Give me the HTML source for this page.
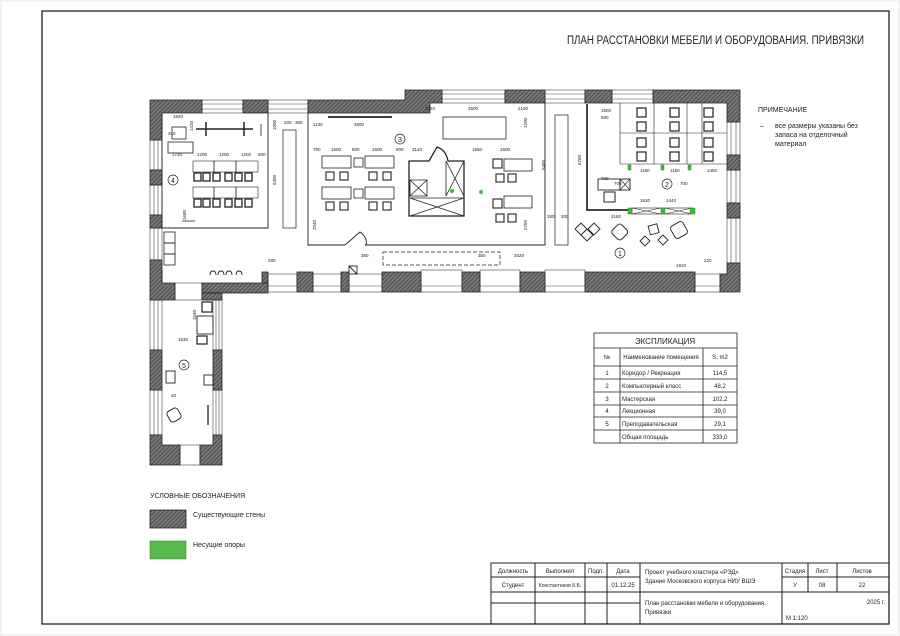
<!DOCTYPE html>
<html><head><meta charset="utf-8"><style>
html,body{margin:0;padding:0;background:#fff}
svg{display:block}
text{font-family:"Liberation Sans","DejaVu Sans",sans-serif;fill:#222}
</style></head><body>
<svg width="900" height="636" viewBox="0 0 900 636" xmlns="http://www.w3.org/2000/svg">
<defs>
<pattern id="h" width="3" height="3" patternUnits="userSpaceOnUse" patternTransform="rotate(45)">
<rect width="3" height="3" fill="#777"/><line x1="0" y1="0" x2="0" y2="3" stroke="#333" stroke-width="1.2"/>
</pattern>
</defs>
<rect x="0" y="0" width="900" height="636" fill="#f2f2f2"/>
<rect x="2" y="2" width="896" height="632" fill="#fff"/>
<rect x="42" y="11" width="847" height="613" fill="none" stroke="#222" stroke-width="1.3"/>
<text x="864" y="44" font-size="11.5" text-anchor="end" textLength="297" lengthAdjust="spacingAndGlyphs">ПЛАН РАССТАНОВКИ МЕБЕЛИ И ОБОРУДОВАНИЯ. ПРИВЯЗКИ</text>

<text x="758" y="112" font-size="7">ПРИМЕЧАНИЕ</text>
<text x="760" y="128" font-size="7">–</text>
<text x="775" y="128" font-size="7">все размеры указаны без</text>
<text x="775" y="137" font-size="7">запаса на отделочный</text>
<text x="775" y="146" font-size="7">материал</text>

<g stroke="#444" stroke-width="0.6" fill="#fff">
<rect x="202" y="100" width="41" height="13"/><line x1="202" y1="104" x2="243" y2="104"/><line x1="202" y1="109" x2="243" y2="109"/>
<rect x="268" y="100" width="40" height="13"/><line x1="268" y1="104" x2="308" y2="104"/><line x1="268" y1="109" x2="308" y2="109"/>
<rect x="442" y="90" width="63" height="13"/><line x1="442" y1="94" x2="505" y2="94"/><line x1="442" y1="99" x2="505" y2="99"/>
<rect x="545" y="90" width="40" height="13"/><line x1="545" y1="94" x2="585" y2="94"/><line x1="545" y1="99" x2="585" y2="99"/>
<rect x="612" y="90" width="41" height="13"/><line x1="612" y1="94" x2="653" y2="94"/><line x1="612" y1="99" x2="653" y2="99"/>
<rect x="150" y="140" width="12" height="30"/><line x1="154" y1="140" x2="154" y2="170"/><line x1="158" y1="140" x2="158" y2="170"/>
<rect x="150" y="185" width="12" height="30"/><line x1="154" y1="185" x2="154" y2="215"/><line x1="158" y1="185" x2="158" y2="215"/>
<rect x="150" y="228" width="12" height="32"/><line x1="154" y1="228" x2="154" y2="260"/><line x1="158" y1="228" x2="158" y2="260"/>
<rect x="727" y="122" width="13" height="33"/><line x1="731" y1="122" x2="731" y2="155"/><line x1="736" y1="122" x2="736" y2="155"/>
<rect x="727" y="170" width="13" height="33"/><line x1="731" y1="170" x2="731" y2="203"/><line x1="736" y1="170" x2="736" y2="203"/>
<rect x="727" y="218" width="13" height="45"/><line x1="731" y1="218" x2="731" y2="263"/><line x1="736" y1="218" x2="736" y2="263"/>
<rect x="268" y="274" width="29" height="18"/><rect x="313" y="274" width="28" height="18"/><rect x="349" y="274" width="33" height="18"/>
<rect x="421" y="270" width="41" height="22"/><rect x="480" y="270" width="40" height="22"/><rect x="545" y="270" width="40" height="22"/>
<rect x="695" y="274" width="25" height="18"/>
<line x1="268" y1="286" x2="720" y2="286"/>
<rect x="150" y="300" width="12" height="50"/><line x1="154" y1="300" x2="154" y2="350"/><line x1="158" y1="300" x2="158" y2="350"/>
<rect x="150" y="390" width="12" height="45"/><line x1="154" y1="390" x2="154" y2="435"/><line x1="158" y1="390" x2="158" y2="435"/>
<rect x="213" y="300" width="9" height="50"/><line x1="216" y1="300" x2="216" y2="350"/><line x1="219" y1="300" x2="219" y2="350"/>
<rect x="213" y="390" width="9" height="45"/><line x1="216" y1="390" x2="216" y2="435"/><line x1="219" y1="390" x2="219" y2="435"/>
<rect x="175" y="283" width="27" height="17"/><rect x="180" y="445" width="20" height="20"/>
</g>

<g fill="url(#h)" stroke="#222" stroke-width="0.8">
<path d="M150 100 H202 V113 H162 V140 H150 Z"/>
<rect x="150" y="170" width="12" height="15"/>
<rect x="150" y="215" width="12" height="13"/>
<path d="M150 260 H162 V283 H175 V300 H150 Z"/>
<rect x="243" y="100" width="25" height="13"/>
<path d="M308 100 H405 V90 H442 V103 H430 V113 H308 Z"/>
<rect x="505" y="90" width="40" height="13"/>
<rect x="585" y="90" width="27" height="13"/>
<path d="M653 90 H740 V122 H727 V103 H653 Z"/>
<rect x="727" y="155" width="13" height="15"/>
<rect x="727" y="203" width="13" height="15"/>
<path d="M727 263 H740 V292 H720 V274 H727 Z"/>
<rect x="202" y="283" width="66" height="10"/>
<rect x="262" y="272" width="6" height="11"/>
<rect x="202" y="293" width="20" height="7"/>
<rect x="297" y="272" width="16" height="20"/>
<rect x="341" y="272" width="8" height="20"/>
<rect x="382" y="272" width="39" height="20"/>
<rect x="462" y="272" width="18" height="20"/>
<rect x="520" y="272" width="25" height="20"/>
<rect x="585" y="272" width="110" height="20"/>
<rect x="150" y="350" width="12" height="40"/>
<rect x="213" y="350" width="9" height="40"/>
<path d="M150 435 H162 V445 H180 V465 H150 Z"/>
<path d="M213 435 H222 V465 H200 V445 H213 Z"/>
</g>

<g fill="none" stroke="#222" stroke-width="0.9">
<path d="M268 113 V228 H162"/>
<path d="M308 113 V245 H345 M365 245 H545 V103"/>
<path d="M345 245 L360 232 Q368 238 366 245"/>
<rect x="283" y="130" width="13" height="98" stroke-width="0.7"/>
<rect x="555" y="115" width="13" height="130" stroke-width="0.7"/>
<path d="M587 104 V210 H632" stroke="#444" stroke-width="2"/>
<rect x="383" y="252" width="117" height="13" stroke-dasharray="4,2" stroke-width="0.7"/>
<path d="M162 113 V228 M162 270 V283"/>
</g>

<g fill="none" stroke="#222" stroke-width="0.8">
<rect x="172" y="127" width="14" height="12"/><rect x="168" y="142" width="25" height="11"/>
<line x1="196" y1="129" x2="253" y2="129" stroke-width="1.5"/>
<line x1="206" y1="122" x2="206" y2="136" stroke-width="1.5"/><line x1="244" y1="122" x2="244" y2="136" stroke-width="1.5"/>
<line x1="261" y1="124" x2="261" y2="136"/>
<g stroke-width="0.6"><rect x="193" y="161" width="21" height="11"/><rect x="214" y="161" width="22" height="11"/><rect x="236" y="161" width="22" height="11"/>
<rect x="193" y="187" width="21" height="11"/><rect x="214" y="187" width="22" height="11"/><rect x="236" y="187" width="22" height="11"/></g>
<g stroke-width="1.3">
<rect x="194" y="173" width="7" height="8"/><rect x="203" y="173" width="7" height="8"/><rect x="213" y="173" width="7" height="8"/><rect x="225" y="173" width="7" height="8"/><rect x="235" y="173" width="7" height="8"/><rect x="245" y="173" width="7" height="8"/>
<rect x="194" y="199" width="7" height="8"/><rect x="203" y="199" width="7" height="8"/><rect x="213" y="199" width="7" height="8"/><rect x="225" y="199" width="7" height="8"/><rect x="235" y="199" width="7" height="8"/><rect x="245" y="199" width="7" height="8"/></g>
<line x1="182" y1="221" x2="195" y2="221"/>
<rect x="164" y="232" width="11" height="11"/><rect x="164" y="243" width="11" height="11"/><rect x="164" y="254" width="11" height="11"/>
</g>

<g fill="none" stroke="#222" stroke-width="0.8">
<line x1="328" y1="117" x2="392" y2="117" stroke-width="1.8"/>
<rect x="443" y="117" width="63" height="22"/>
<rect x="322" y="156" width="29" height="12"/><rect x="365" y="156" width="29" height="12"/>
<rect x="354" y="158" width="9" height="9"/>
<rect x="322" y="187" width="29" height="12"/><rect x="365" y="187" width="29" height="12"/>
<rect x="354" y="189" width="9" height="9"/>
<g stroke-width="1.1">
<rect x="326" y="172" width="8" height="8"/><rect x="340" y="172" width="8" height="8"/><rect x="369" y="172" width="8" height="8"/><rect x="383" y="172" width="8" height="8"/>
<rect x="326" y="202" width="8" height="8"/><rect x="340" y="202" width="8" height="8"/><rect x="369" y="202" width="8" height="8"/><rect x="383" y="202" width="8" height="8"/>
<rect x="493" y="159" width="9" height="9"/><rect x="493" y="199" width="9" height="9"/>
<rect x="496" y="174" width="8" height="8"/><rect x="508" y="174" width="8" height="8"/>
<rect x="496" y="214" width="8" height="8"/><rect x="508" y="214" width="8" height="8"/></g>
<rect x="504" y="159" width="28" height="12"/><rect x="504" y="196" width="28" height="12"/>
<path d="M409 161 H429 L437 147 Q446 150 448 161 H464 V216 H409 Z" stroke-width="1.3"/>
<path d="M410 180 H427 V196 H410 Z M410 180 L427 196 M427 180 L410 196"/>
<path d="M446 161 V196 M446 161 L464 196 M464 161 L446 196"/>
<path d="M410 198 H464 M410 198 L464 216 M464 198 L410 216"/>
</g>
<circle cx="452" cy="191" r="2" fill="#3dbb3d"/><circle cx="481" cy="192" r="2" fill="#3dbb3d"/>

<g fill="none" stroke="#222" stroke-width="0.6">
<path d="M620 103 V164 M654 103 V164 M687 103 V164 M702 103 V164 M620 164 H727 M620 133 H727"/>
<g stroke-width="1.2">
<rect x="637" y="108" width="9" height="9"/><rect x="637" y="122" width="9" height="9"/><rect x="637" y="138" width="9" height="9"/><rect x="637" y="152" width="9" height="9"/>
<rect x="670" y="108" width="9" height="9"/><rect x="670" y="122" width="9" height="9"/><rect x="670" y="138" width="9" height="9"/><rect x="670" y="152" width="9" height="9"/>
<rect x="704" y="108" width="9" height="9"/><rect x="704" y="122" width="9" height="9"/><rect x="704" y="138" width="9" height="9"/><rect x="704" y="152" width="9" height="9"/></g>
<rect x="598" y="179" width="22" height="11" stroke-width="0.9"/><rect x="620" y="179" width="10" height="11" stroke-width="0.9"/>
<path d="M620 179 L630 190 M630 179 L620 190"/>
<rect x="604" y="192" width="11" height="10" stroke-width="1"/>
<rect x="632" y="208" width="60" height="6"/><path d="M632 208 L661 214 M661 208 L632 214 M665 208 L692 214 M692 208 L665 214"/>
</g>
<g fill="#3dbb3d" stroke="#2a8a2a" stroke-width="0.5">
<rect x="628" y="165" width="3" height="5"/><rect x="661" y="165" width="3" height="5"/><rect x="688" y="165" width="3" height="5"/>
<rect x="628" y="208" width="4" height="6"/><rect x="661" y="208" width="4" height="6"/><rect x="690" y="208" width="5" height="6"/>
</g>
<g fill="none" stroke="#222" stroke-width="0.9">
<path d="M575 229 l6 -6 l6 6 l-6 6 z M581 235 l6 -6 l6 6 l-6 6 z M588 229 l6 -6 l6 6 l-6 6 z"/>
<rect x="613" y="225" width="13" height="13" rx="3" transform="rotate(45 619 232)"/>
<rect x="649" y="225" width="9" height="9" transform="rotate(-15 653 229)"/>
<path d="M640 241 l5 -5 l5 5 l-5 5 z M658 240 l5 -5 l5 5 l-5 5 z"/>
<rect x="672" y="223" width="14" height="14" rx="3" transform="rotate(-30 679 230)"/>
<rect x="349" y="266" width="8" height="8"/><path d="M349 266 L357 274"/>
<rect x="202" y="302" width="10" height="10" stroke-width="1.2"/><rect x="197" y="316" width="16" height="18"/><rect x="197" y="336" width="10" height="8" stroke-width="1.2"/>
<rect x="168" y="409" width="12" height="12" rx="3" transform="rotate(-30 174 415)"/>
<line x1="208" y1="405" x2="208" y2="425" stroke-width="1.3"/>
<rect x="166" y="371" width="9" height="12"/><rect x="204" y="375" width="9" height="10"/>
<path d="M210 275 q0 -4 3 -4 q3 0 3 4 M218 275 q0 -4 3 -4 q3 0 3 4 M226 275 q0 -4 3 -4 q3 0 3 4 M236 275 q0 -4 3 -4 q3 0 3 4"/>
</g>

<g font-size="4.5" fill="#333">
<text x="173" y="118">1920</text><text x="168" y="135">340</text><text x="172" y="156">1720</text>
<text x="197" y="156">1200</text><text x="219" y="156">1200</text><text x="241" y="156">1200</text><text x="258" y="156">600</text>
<text x="284" y="124">200</text><text x="295" y="124">360</text><text x="313" y="126">1130</text><text x="354" y="126">3500</text>
<text x="425" y="110">1410</text><text x="468" y="110">3500</text><text x="518" y="110">2180</text>
<text x="313" y="151">790</text><text x="331" y="151">1600</text><text x="352" y="151">800</text><text x="372" y="151">1600</text><text x="396" y="151">800</text><text x="412" y="151">3140</text>
<text x="472" y="151">1560</text><text x="500" y="151">1600</text>
<text x="361" y="257">350</text><text x="478" y="257">350</text><text x="514" y="257">2520</text>
<text x="268" y="262">280</text><text x="676" y="267">1910</text><text x="704" y="262">220</text>
<text x="601" y="112">1500</text><text x="601" y="119">580</text><text x="601" y="180">700</text><text x="614" y="185">700</text>
<text x="640" y="172">1160</text><text x="670" y="172">1150</text><text x="707" y="172">1450</text><text x="680" y="185">700</text>
<text x="640" y="202">1620</text><text x="666" y="202">1440</text><text x="611" y="218">2180</text>
<text x="547" y="218">380</text><text x="561" y="218">300</text><text x="178" y="341">1630</text><text x="171" y="397">40</text>
</g>
<g font-size="4.5" fill="#333">
<text transform="translate(276,130) rotate(-90)">1000</text><text transform="translate(276,185) rotate(-90)">5400</text>
<text transform="translate(545,170) rotate(-90)">5400</text><text transform="translate(581,165) rotate(-90)">6760</text>
<text transform="translate(193,131) rotate(-90)">1410</text><text transform="translate(186,220) rotate(-90)">1680</text>
<text transform="translate(527,128) rotate(-90)">1200</text><text transform="translate(527,230) rotate(-90)">2750</text>
<text transform="translate(316,230) rotate(-90)">2540</text><text transform="translate(196,320) rotate(-90)">1540</text>
</g>

<g fill="none" stroke="#222" stroke-width="0.7">
<circle cx="400" cy="139" r="5"/><circle cx="173" cy="180" r="5"/><circle cx="667" cy="184" r="5"/><circle cx="620" cy="253" r="5"/><circle cx="184" cy="365" r="5"/>
</g>
<g font-size="7" text-anchor="middle">
<text x="400" y="142">3</text><text x="173" y="183">4</text><text x="667" y="187">2</text><text x="620" y="256">1</text><text x="184" y="368">5</text>
</g>

<g fill="none" stroke="#222" stroke-width="0.8">
<rect x="594" y="333" width="143" height="110"/>
<path d="M594 348 H737 M594 366 H737 M594 379 H737 M594 392 H737 M594 405 H737 M594 417 H737 M594 430 H737 M620 348 V443 M703 348 V443"/>
</g>
<g font-size="6">
<text x="665" y="344" font-size="8" text-anchor="middle">ЭКСПЛИКАЦИЯ</text>
<text x="607" y="359" text-anchor="middle">№</text><text x="661" y="359" text-anchor="middle">Наименование помещения</text><text x="720" y="359" text-anchor="middle">S, m2</text>
<text x="607" y="375" text-anchor="middle">1</text><text x="622" y="375">Коридор / Рекреация</text><text x="720" y="375" text-anchor="middle">114,5</text>
<text x="607" y="388" text-anchor="middle">2</text><text x="622" y="388">Компьютерный класс</text><text x="720" y="388" text-anchor="middle">48,2</text>
<text x="607" y="401" text-anchor="middle">3</text><text x="622" y="401">Мастерская</text><text x="720" y="401" text-anchor="middle">102,2</text>
<text x="607" y="413" text-anchor="middle">4</text><text x="622" y="413">Лекционная</text><text x="720" y="413" text-anchor="middle">39,0</text>
<text x="607" y="426" text-anchor="middle">5</text><text x="622" y="426">Преподавательская</text><text x="720" y="426" text-anchor="middle">29,1</text>
<text x="622" y="439">Общая площадь</text><text x="720" y="439" text-anchor="middle">333,0</text>
</g>

<text x="150" y="498" font-size="7">УСЛОВНЫЕ ОБОЗНАЧЕНИЯ</text>
<rect x="150" y="510" width="36" height="18" fill="url(#h)" stroke="#222" stroke-width="0.8"/>
<text x="193" y="517" font-size="7">Существующие стены</text>
<rect x="150" y="541" width="36" height="18" fill="#58b94c" stroke="#3a9a3a" stroke-width="0.6"/>
<text x="193" y="547" font-size="7">Несущие опоры</text>

<g fill="none" stroke="#222" stroke-width="1">
<rect x="491" y="563" width="398" height="61"/>
<path d="M491 577 H640 M491 592 H640 M491 603 H640 M640 592 H889 M782 577 H889"/>
<path d="M535 563 V624 M585 563 V624 M607 563 V624 M640 563 V624 M782 563 V624 M808 563 V592 M837 563 V592"/>
</g>
<g font-size="6">
<text x="513" y="573" text-anchor="middle">Должность</text><text x="560" y="573" text-anchor="middle">Выполнил</text><text x="596" y="573" text-anchor="middle">Подп.</text><text x="623" y="573" text-anchor="middle">Дата</text>
<text x="513" y="587" text-anchor="middle">Студент</text><text x="560" y="587" text-anchor="middle" font-size="5">Константинов К.Б.</text><text x="623" y="587" text-anchor="middle">01.12.25</text>
<text x="645" y="574">Проект учебного кластера «РЭД»</text><text x="645" y="583">Здание Московского корпуса НИУ ВШЭ</text>
<text x="795" y="573" text-anchor="middle">Стадия</text><text x="822" y="573" text-anchor="middle">Лист</text><text x="862" y="573" text-anchor="middle">Листов</text>
<text x="795" y="587" text-anchor="middle">У</text><text x="822" y="587" text-anchor="middle">08</text><text x="862" y="587" text-anchor="middle">22</text>
<text x="645" y="605">План расстановки мебели и оборудования.</text><text x="645" y="614">Привязки</text>
<text x="885" y="604" text-anchor="end">2025 г.</text><text x="786" y="620">М 1:120</text>
</g>
</svg>
</body></html>
